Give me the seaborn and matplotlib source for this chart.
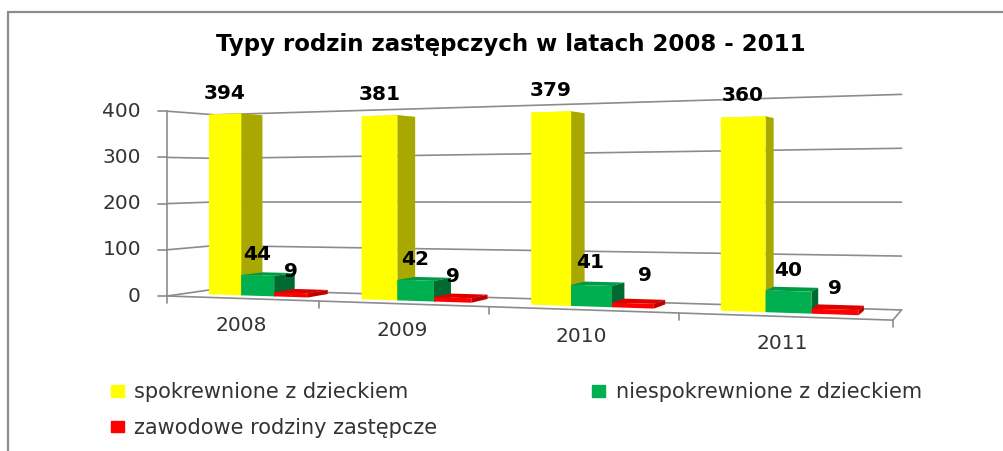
import numpy as np
import pandas as pd
import matplotlib
matplotlib.use('Agg')
import matplotlib.pyplot as plt
import seaborn as sns
from matplotlib.patches import Patch, Polygon
from matplotlib.transforms import Transform

lata = ['2008', '2009', '2010', '2011']
spokrewnione = [394, 381, 379, 360]
niespokrewnione = [44, 42, 41, 40]
zawodowe = [9, 9, 9, 9]
nazwy = ['spokrewnione z dzieckiem', 'niespokrewnione z dzieckiem', 'zawodowe rodziny zastępcze']
y_ticks = [0, 100, 200, 300, 400]

kolory = ['#FFFF00', '#00B050', '#FF0000']
boki = ['#A8A800', '#006B30', '#C00000']
gory = ['#E6E600', '#009A45', '#E00000']
szary = '#8C8C8C'


# rzut perspektywiczny: x = pozycja kategorii, y = wartosc, z = glebokosc (0 przod, 1 tyl)
def rzut(x, y, z):
    x = np.asarray(x, dtype=float) + 0.5
    y = np.asarray(y, dtype=float)
    z = np.asarray(z, dtype=float)
    w = 1 - 0.0507 * x + 0.06 * z
    u = (136.2 * x + 61 * z + 167) / w
    v = (-10.2 * x - 0.462 * y + 10.5 * z + 296) / w
    return u, v


class Rzut(Transform):
    input_dims = 2
    output_dims = 2

    def __init__(self, z):
        super().__init__()
        self.z = z

    def transform_non_affine(self, values):
        values = np.asarray(values)
        u, v = rzut(values[:, 0], values[:, 1], self.z)
        return np.column_stack([u, v])


df = pd.DataFrame({'rok': lata * 3,
                   'typ': np.repeat(nazwy, 4),
                   'liczba': spokrewnione + niespokrewnione + zawodowe})

sns.set_theme(style='white')
plt.rcParams['font.family'] = ['DejaVu Sans']
fig, ax = plt.subplots(figsize=(10.04, 4.51), dpi=100)
fig.subplots_adjust(0, 0, 1, 1)

sns.barplot(data=df, x='rok', y='liczba', hue='typ', hue_order=nazwy, palette=kolory,
            saturation=1, width=0.66, gap=0, linewidth=0, legend=False, ax=ax)
ax.set_xlim(0, 1004)
ax.set_ylim(451, 0)
ax.set_axis_off()

# ramka
ax.plot([8, 8, 1004], [451, 12, 12], color=szary, lw=1.6, solid_joinstyle='miter')


def linia(xs, ys, zs, **kw):
    u, v = rzut(xs, ys, zs)
    ax.plot(u, v, color=szary, lw=1.2, zorder=1, **kw)


x0, x1 = -0.5, 3.5
for t in y_ticks:
    linia([x0, x0, x1], [t, t, t], [0, 1, 1])
    u, v = rzut(x0, t, 0)
    ax.plot([u - 9, u], [v, v], color=szary, lw=1.2, zorder=1)
    ax.text(u - 26, v, str(t), ha='right', va='center', fontsize=14.5, color='#333333')

# os pionowa, podloga, znaczniki
linia([x0, x0], [0, 400], [0, 0])
linia([x0, x1, x1], [0, 0, 0], [0, 0, 1])
for i in range(5):
    u, v = rzut(x0 + i, 0, 0)
    ax.plot([u, u], [v, v + 7], color=szary, lw=1.2, zorder=1)

for i, rok in enumerate(lata):
    u, v = rzut(i, 0, 0)
    ax.text(u, v + 27, rok, ha='center', va='center', fontsize=14.5, color='#333333')

# slupki z bokiem i gora w tej samej skali
z_przod, z_tyl = 0.35, 0.82
przesuniecia = {(2, 2): (12, -7), (2, 1): (-1, -2)}
for s, cont in enumerate(ax.containers):
    for i, bar in enumerate(cont):
        a = bar.get_x()
        b = a + bar.get_width()
        h = bar.get_height()
        zo = 5 + i * 3 + s * 0.3
        bok_x, bok_y = rzut([b, b, b, b], [0, h, h, 0], [z_przod, z_przod, z_tyl, z_tyl])
        gora_x, gora_y = rzut([a, b, b, a], [h, h, h, h], [z_przod, z_przod, z_tyl, z_tyl])
        ax.add_patch(Polygon(np.column_stack([gora_x, gora_y]), fc=gory[s], ec='none', zorder=zo))
        ax.add_patch(Polygon(np.column_stack([bok_x, bok_y]), fc=boki[s], ec='none', zorder=zo + 0.1))
        bar.set_transform(Rzut(z_przod) + ax.transData)
        bar.set_zorder(zo + 0.2)
        bar.set_clip_on(False)
        u, v = rzut((a + b) / 2, h, z_przod)
        dx, dy = przesuniecia.get((i, s), (0, 0))
        ax.text(u + dx, v - 21 + dy, str(int(h)), ha='center', va='center', fontsize=14.5,
                fontweight='bold', color='black', zorder=40)

ax.text(511, 44, 'Typy rodzin zastępczych w latach 2008 - 2011', ha='center', va='center',
        fontsize=16.5, fontweight='bold', color='black')

uchwyty = [Patch(color=kolory[0], label=nazwy[0]), Patch(color=kolory[2], label=nazwy[2]),
           Patch(color=kolory[1], label=nazwy[1])]
ax.legend(handles=uchwyty, loc='upper left', bbox_to_anchor=(92, 363.5), bbox_transform=ax.transData,
          ncol=2, frameon=False, fontsize=15, labelcolor='#333333', handlelength=0.62, handleheight=0.5,
          handletextpad=0.5, columnspacing=7.45, labelspacing=0.75)

fig.savefig('out.png', dpi=100)
